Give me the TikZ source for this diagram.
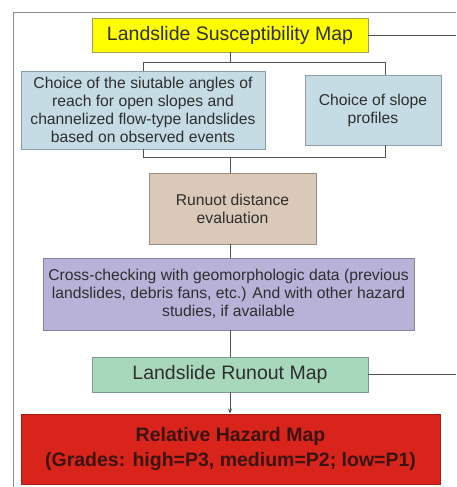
\documentclass[tikz,border=0pt]{standalone}
\usepackage{fontspec}
\setmainfont{Liberation Sans}
\usepackage{tikz}
\usetikzlibrary{arrows.meta}
\definecolor{frameg}{HTML}{8C8C8C}
\definecolor{lineg}{HTML}{505050}
\definecolor{txt}{HTML}{2E2E2E}
\definecolor{yel}{HTML}{FFFF00}
\definecolor{yelb}{HTML}{A6A050}
\definecolor{sky}{HTML}{C6DCE5}
\definecolor{skyb}{HTML}{8B9DA6}
\definecolor{tan}{HTML}{DAC9B8}
\definecolor{tanb}{HTML}{9D8C82}
\definecolor{lila}{HTML}{B8B2D9}
\definecolor{lilab}{HTML}{8884A8}
\definecolor{mint}{HTML}{A8D8BC}
\definecolor{mintb}{HTML}{7C9C8A}
\definecolor{haz}{HTML}{D9241B}
\definecolor{hazb}{HTML}{A81C14}
\definecolor{haztxt}{HTML}{3A1410}

\begin{document}
\begin{tikzpicture}[x=1pt, y=-1pt,
    box/.style={rectangle, draw, line width=0.9pt, inner sep=0pt, align=center, text=txt},
    big/.style={font=\fontsize{19.5}{23}\selectfont},
    small/.style={font=\fontsize{15.7}{18}\selectfont},
    link/.style={draw=lineg, line width=0.9pt},
    arrow/.style={link, -{Stealth[length=5pt, width=4pt]}}
]
\useasboundingbox (0,0) rectangle (456,487);
\fill[white] (0,0) rectangle (456,487);
\draw[frameg, line width=0.9pt] (13,487) -- (13,12) -- (456,12);

\node[box, big, fill=yel, draw=yelb, minimum width=276pt, minimum height=34pt] (susc) at (230,35) {Landslide Susceptibility Map};
\node[box, small, fill=sky, draw=skyb, minimum width=244pt, minimum height=78pt] (angles) at (143,110) {Choice of the siutable angles of\\reach for open slopes and\\channelized flow-type landslides\\based on observed events};
\node[box, small, fill=sky, draw=skyb, minimum width=136pt, minimum height=70pt] (profiles) at (373,110) {Choice of slope\\profiles};
\node[box, small, fill=tan, draw=tanb, minimum width=167pt, minimum height=71pt] (dist) at (232.5,208.5) {Runuot distance\\evaluation};
\node[box, small, fill=lila, draw=lilab, minimum width=371pt, minimum height=72pt] (check) at (228.5,294) {Cross-checking with geomorphologic data (previous\\landslides, debris fans, etc.) And with other hazard\\studies, if available};
\node[box, big, fill=mint, draw=mintb, minimum width=276pt, minimum height=35pt] (runout) at (230,374.5) {Landslide Runout Map};
\node[box, fill=haz, draw=hazb, text=haztxt, font=\bfseries\fontsize{19.5}{25}\selectfont, minimum width=419pt, minimum height=70pt] (hazard) at (230.5,449) {Relative Hazard Map\\(Grades: high=P3, medium=P2; low=P1)};

\coordinate (topl) at (143,62);
\coordinate (topr) at (385,62);
\coordinate (botl) at (143,157);
\coordinate (botr) at (385,157);
\coordinate (edgea) at (456,35);
\coordinate (edgeb) at (456,374.5);

\draw[link] (susc.south) -- (susc.south |- topl);
\draw[link] (angles.north) -- (topl) -- (topr) -- (topr |- profiles.north);
\draw[link] (angles.south) -- (botl) -- (botr) -- (botr |- profiles.south);
\draw[link] (susc.south |- botl) -- (susc.south |- dist.north);
\draw[link] (susc.south |- dist.south) -- (susc.south |- check.north);
\draw[link] (susc.south |- check.south) -- (runout.north);
\draw[arrow] (runout.south) -- (runout.south |- hazard.north);
\draw[link] (susc.east) -- (edgea);
\draw[link] (runout.east) -- (edgeb);
\end{tikzpicture}
\end{document}
